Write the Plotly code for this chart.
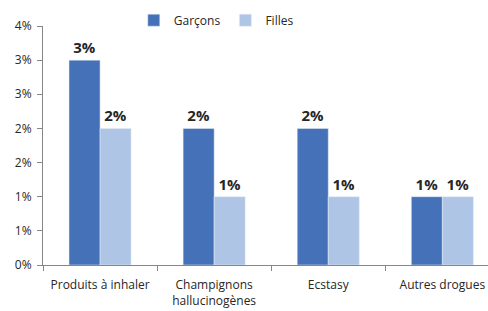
import plotly.graph_objects as go

categories = ["Produits à inhaler", "Champignons<br>hallucinogènes", "Ecstasy", "Autres drogues"]
garcons = [3, 2, 2, 1]
filles = [2, 1, 1, 1]
garcons_labels = ["3%", "2%", "2%", "1%"]
filles_labels = ["2%", "1%", "1%", "1%"]
y_tickvals = [0, 0.5, 1, 1.5, 2, 2.5, 3, 3.5]
y_ticktext = ["0%", "1%", "1%", "2%", "2%", "3%", "3%", "4%"]

font = "Open Sans"
fig = go.Figure()
fig.add_trace(go.Bar(name="Garçons", x=categories, y=garcons, text=garcons_labels,
                     textposition="outside", marker_color="#4571B8",
                     textfont=dict(family=font, size=15, color="#262626", weight="bold"),
                     cliponaxis=False))
fig.add_trace(go.Bar(name="Filles", x=categories, y=filles, text=filles_labels,
                     textposition="outside", marker_color="#AFC5E6",
                     textfont=dict(family=font, size=15, color="#262626", weight="bold"),
                     cliponaxis=False))

fig.update_layout(
    width=488, height=311,
    margin=dict(l=43, r=0, t=26, b=46, autoexpand=False),
    paper_bgcolor="white", plot_bgcolor="white",
    barmode="group", bargap=0.456, bargroupgap=0,
    font=dict(family=font, size=12, color="#262626"),
    showlegend=True,
    legend=dict(orientation="h", x=0.204, y=1.085, xanchor="left", yanchor="top",
                font=dict(family=font, size=12, color="#262626"),
                itemwidth=30, tracegroupgap=0),
)
fig.update_xaxes(range=[-0.5, 3.4], showline=True, linecolor="#868686", linewidth=1,
                 ticks="outside", ticklen=5, tickcolor="#868686", tickson="boundaries",
                 showgrid=False, automargin=False, ticklabelstandoff=9,
                 tickfont=dict(family=font, size=12, color="#262626"))
fig.update_yaxes(range=[0, 3.5], tickvals=y_tickvals, ticktext=y_ticktext,
                 showline=True, linecolor="#868686", linewidth=1,
                 ticks="outside", ticklen=5, tickcolor="#868686",
                 showgrid=False, zeroline=False, automargin=False, ticklabelstandoff=3,
                 tickfont=dict(family=font, size=12, color="#262626"))

fig.write_html("out.html", config={"displayModeBar": False},
               post_script="document.body.style.margin='0';document.body.style.overflow='hidden';")
